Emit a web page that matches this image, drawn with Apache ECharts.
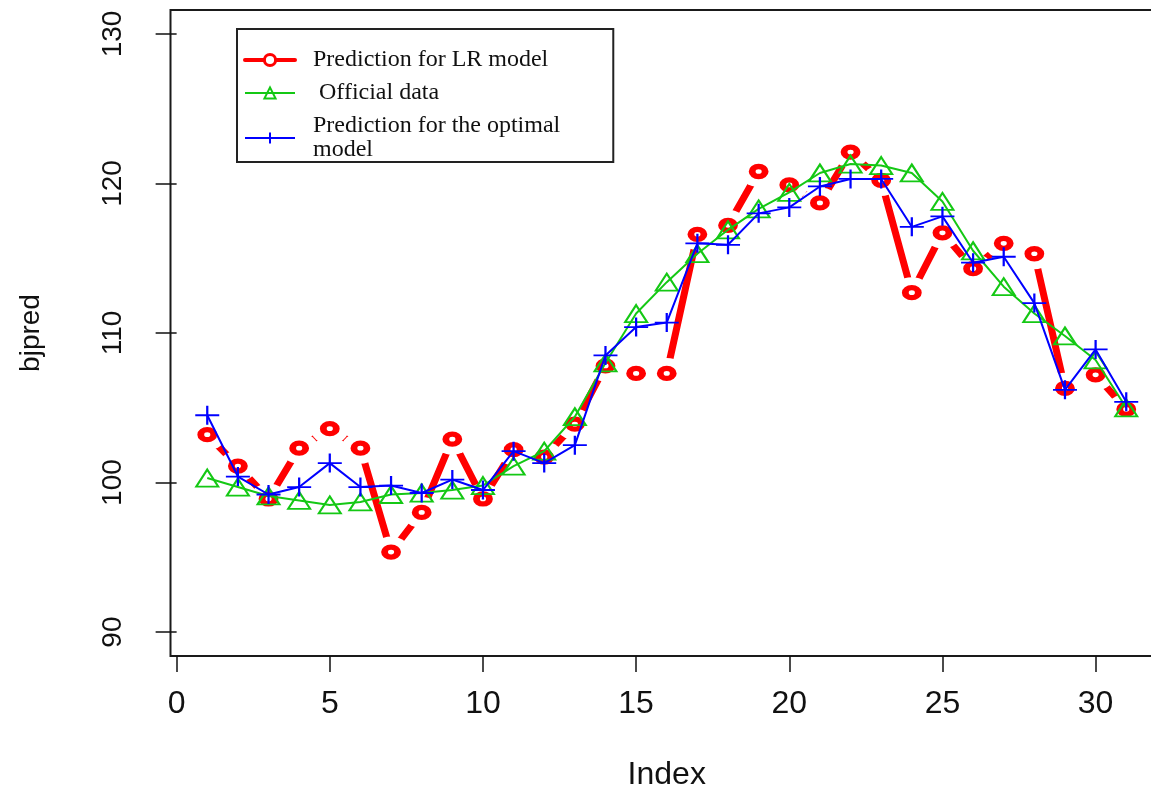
<!DOCTYPE html>
<html>
<head>
<meta charset="utf-8">
<title>bjpred</title>
<script src="https://cdn.jsdelivr.net/npm/echarts@6/dist/echarts.min.js"></script>
<style>
  html, body { margin: 0; padding: 0; background: #fff; }
  #chart { width: 1151px; height: 788px; }
</style>
</head>
<body>
<div id="chart"></div>
<script type="text/javascript">
	// data
	var idx = [1, 2, 3, 4, 5, 6, 7, 8, 9, 10, 11, 12, 13, 14, 15, 16, 17, 18, 19, 20, 21, 22, 23, 24, 25, 26, 27, 28, 29, 30, 31];
	var lrPred = [103.2, 101.1, 98.9, 102.3, 103.6, 102.3, 95.35, 98.0, 102.9, 98.9, 102.2, 101.7, 103.9, 107.8, 107.3, 107.3,
		116.6, 117.2, 120.8, 119.9, 118.7, 122.1, 120.2, 112.7, 116.7, 114.3, 116.0, 115.3, 106.3, 107.2, 104.9];
	var official = [100.3, 99.7, 99.1, 98.8, 98.5, 98.7, 99.2, 99.3, 99.5, 99.8, 101.1, 102.1, 104.4, 108.0, 111.3, 113.4,
		115.3, 116.9, 118.3, 119.4, 120.7, 121.3, 121.2, 120.7, 118.8, 115.5, 113.1, 111.3, 109.8, 108.2, 105.0];
	var optimal = [104.5, 100.4, 99.2, 99.7, 101.3, 99.7, 99.8, 99.3, 100.2, 99.5, 102.1, 101.3, 102.5, 108.5, 110.4, 110.7,
		116.0, 115.9, 118.0, 118.4, 119.8, 120.3, 120.3, 117.1, 117.8, 114.7, 115.1, 112.0, 106.2, 108.9, 105.4];
	var xTicks = [0, 5, 10, 15, 20, 25, 30];
	var yTicks = [90, 100, 110, 120, 130];

	var nameLR = 'Prediction for LR model';
	var nameOff = 'Official data';
	var nameOpt = 'Prediction for the optimal\nmodel';

	function pairs(vals) {
		return idx.map(function (x, i) { return [x, vals[i]]; });
	}

	var sans = '"Liberation Sans", Arial, sans-serif';
	var serif = '"Liberation Serif", "Times New Roman", serif';

	var myChart = echarts.init(document.getElementById('chart'), null, { renderer: 'canvas' });
	var option = {
		animation: false,
		backgroundColor: '#fff',
		grid: {
			show: true,
			left: 170.5,
			top: 10,
			width: 992.5,
			height: 646,
			outerBoundsMode: 'none',
			containLabel: false,
			borderColor: '#1a1a1a',
			borderWidth: 2,
			backgroundColor: 'transparent'
		},
		legend: {
			orient: 'vertical',
			left: 237,
			top: 29,
			z: 10,
			padding: [19, 53, 0, 6],
			itemGap: 9,
			itemWidth: 50,
			itemHeight: 14,
			selectedMode: false,
			borderColor: '#222',
			borderWidth: 2,
			backgroundColor: '#fff',
			textStyle: {
				fontFamily: serif,
				fontSize: 24,
				lineHeight: 24,
				color: '#111',
				padding: [0, 0, 0, 13]
			},
			formatter: function (name) {
				return name === nameOff ? ' ' + name : name;
			},
			data: [
				{ name: nameLR, itemStyle: { color: '#fff', borderColor: '#ff0000', borderWidth: 3 }, lineStyle: { width: 4 } },
				{ name: nameOff },
				{ name: nameOpt }
			]
		},
		xAxis: {
			type: 'value',
			min: -0.2,
			max: 32.2,
			name: 'Index',
			nameLocation: 'middle',
			nameGap: 103,
			nameTextStyle: { fontFamily: sans, fontSize: 32, color: '#111' },
			splitLine: { show: false },
			axisLine: { show: false },
			axisTick: { show: true, customValues: xTicks, length: 16, lineStyle: { color: '#111', width: 1.5 } },
			axisLabel: { customValues: xTicks, fontFamily: sans, fontSize: 32, color: '#111', margin: 32 }
		},
		yAxis: {
			type: 'value',
			min: 88.4,
			max: 131.6,
			name: 'bjpred',
			nameLocation: 'middle',
			nameGap: 125,
			nameTextStyle: { fontFamily: sans, fontSize: 28, color: '#111' },
			splitLine: { show: false },
			axisLine: { show: false },
			axisTick: { show: true, customValues: yTicks, length: 21, lineStyle: { color: '#111', width: 1.5 } },
			axisLabel: { customValues: yTicks, rotate: 90, fontFamily: sans, fontSize: 28, color: '#111', margin: 43 }
		},
		series: [
			{
				// thick red line; white discs leave the gaps round each point (R type "b")
				name: nameLR,
				type: 'line',
				z: 1,
				data: pairs(lrPred),
				silent: true,
				showAllSymbol: true,
				symbol: 'circle',
				symbolSize: [38, 31],
				itemStyle: { color: '#fff', borderWidth: 0 },
				lineStyle: { color: '#ff0000', width: 7, cap: 'round' },
				emphasis: { disabled: true }
			},
			{
				name: 'LR points',
				type: 'scatter',
				z: 2,
				data: pairs(lrPred),
				silent: true,
				symbol: 'circle',
				symbolSize: [13, 10],
				itemStyle: { color: '#fff', borderColor: '#ff0000', borderWidth: 6, opacity: 1 },
				emphasis: { disabled: true }
			},
			{
				name: nameOff,
				type: 'line',
				z: 3,
				data: pairs(official),
				silent: true,
				showAllSymbol: true,
				symbol: 'triangle',
				symbolSize: [22, 17],
				itemStyle: { color: 'transparent', borderColor: '#14c814', borderWidth: 2 },
				lineStyle: { color: '#14c814', width: 2 },
				emphasis: { disabled: true }
			},
			{
				name: nameOpt,
				type: 'line',
				z: 4,
				data: pairs(optimal),
				silent: true,
				showAllSymbol: true,
				symbol: 'path://M0,10 L20,10 M10,0 L10,20',
				symbolSize: [24, 19],
				itemStyle: { color: 'transparent', borderColor: '#0000ff', borderWidth: 2 },
				lineStyle: { color: '#0000ff', width: 2 },
				emphasis: { disabled: true }
			}
		]
	};
	myChart.setOption(option);
</script>
</body>
</html>
